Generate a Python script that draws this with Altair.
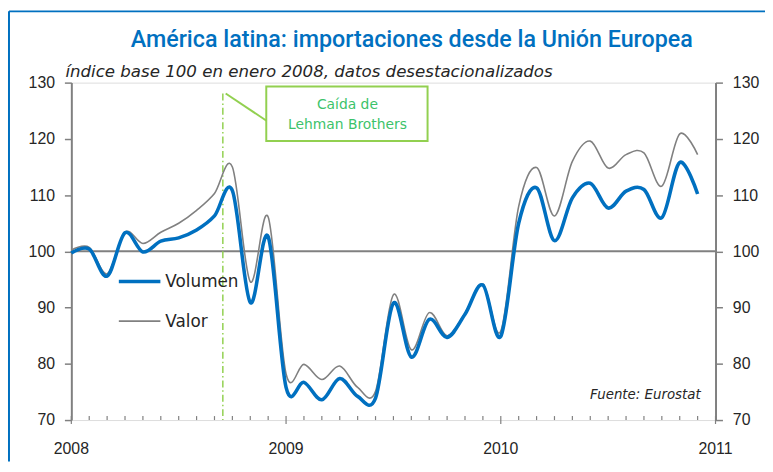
import altair as alt
import pandas as pd

# ---------------- data ----------------
meses = ["2008-01", "2008-02", "2008-03", "2008-04", "2008-05", "2008-06",
         "2008-07", "2008-08", "2008-09", "2008-10", "2008-11", "2008-12",
         "2009-01", "2009-02", "2009-03", "2009-04", "2009-05", "2009-06",
         "2009-07", "2009-08", "2009-09", "2009-10", "2009-11", "2009-12",
         "2010-01", "2010-02", "2010-03", "2010-04", "2010-05", "2010-06",
         "2010-07", "2010-08", "2010-09", "2010-10", "2010-11", "2010-12"]
volumen = [99.7, 100.4, 95.6, 103.3, 99.9, 101.8, 102.4, 103.8, 106.3, 110.8, 90.9, 102.6,
           75.8, 76.7, 73.6, 77.4, 74.2, 73.9, 90.8, 81.2, 87.9, 84.7, 88.8, 94.0,
           84.9, 105.0, 111.3, 101.9, 109.5, 112.1, 107.7, 110.7, 111.0, 106.0, 115.8, 110.2]
valor = [100.2, 100.7, 96.0, 103.4, 101.4, 103.4, 105.0, 107.3, 110.3, 115.0, 94.6, 106.1,
         78.2, 79.9, 77.2, 79.6, 75.8, 75.1, 92.3, 82.5, 89.1, 85.0, 89.0, 94.2,
         85.8, 108.0, 114.9, 106.3, 116.0, 119.6, 114.8, 117.2, 117.5, 111.6, 120.9, 117.2]
anios = ["2008", "2009", "2010", "2011"]
y_ticks = [70, 80, 90, 100, 110, 120, 130]
lehman_fecha = "2008-09-15"

titulo = "América latina: importaciones desde la Unión Europea"
subtitulo = "índice base 100 en enero 2008, datos desestacionalizados"
fuente = "Fuente: Eurostat"
nota = ["Caída de", "Lehman Brothers"]

# ---------------- derived tables ----------------
t_idx = list(range(len(meses)))
df = pd.DataFrame({"t": t_idx, "mes": meses, "Volumen": volumen, "Valor": valor})
n_months = 12 * (len(anios) - 1)
ticks_df = pd.DataFrame({"t": [m for m in range(n_months + 1) if m % 12 != 0]})
years_df = pd.DataFrame({"t": [12 * i for i in range(len(anios))], "label": anios})
ly, lm, ld = [int(v) for v in lehman_fecha.split("-")]
lehman_t = (ly - 2008) * 12 + (lm - 1) + (ld - 1) / 30.0
lehman_df = pd.DataFrame({"t": [lehman_t]})
ref_df = pd.DataFrame({"y": [100]})
one = pd.DataFrame({"a": [0]})

W, H = 651, 341
GRAY = "#808080"
BLUE = "#0070C0"
GREEN_LINE = "#92D050"
GREEN_TXT = "#3CC36A"
TXT = "#262626"
NUM_FONT = "Liberation Sans Narrow, Arial Narrow, Liberation Sans, sans-serif"
TXT_FONT = "DejaVu Sans, Open Sans, sans-serif"

x_scale = alt.Scale(domain=[0, n_months], nice=False, zero=False)
y_scale = alt.Scale(domain=[70, 130], nice=False, zero=False)

x_axis = alt.Axis(values=[12 * i for i in range(len(anios))], labels=False,
                  ticks=False, domainColor=GRAY, domainWidth=2, grid=False, title=None)
y_axis_l = alt.Axis(values=y_ticks, orient="left", tickSize=7, tickColor=GRAY, tickWidth=1.5,
                    domainColor=GRAY, domainWidth=2, labelFontSize=16, labelColor=TXT,
                    labelFont=NUM_FONT, labelPadding=10, grid=False, title=None)
y_axis_r = alt.Axis(values=y_ticks, orient="right", tickSize=7, tickColor=GRAY, tickWidth=1.5,
                    domainColor=GRAY, domainWidth=2, labelFontSize=16, labelColor=TXT,
                    labelFont=NUM_FONT, labelPadding=10, grid=False, title=None)

X = alt.X("t:Q", scale=x_scale, axis=x_axis)
XN = alt.X("t:Q", scale=x_scale, axis=None)

valor_line = alt.Chart(df).mark_line(color=GRAY, strokeWidth=1.6, interpolate="cardinal").encode(
    x=X, y=alt.Y("Valor:Q", scale=y_scale, axis=y_axis_l))
vol_line = alt.Chart(df).mark_line(color=BLUE, strokeWidth=3.6, interpolate="cardinal").encode(
    x=XN, y=alt.Y("Volumen:Q", scale=y_scale, axis=None))
right_axis = alt.Chart(df).mark_line(opacity=0).encode(
    x=XN, y=alt.Y("Volumen:Q", scale=y_scale, axis=y_axis_r))

ref_rule = alt.Chart(ref_df).mark_rule(color=GRAY, strokeWidth=2).encode(
    y=alt.Y("y:Q", scale=y_scale, axis=None))

month_ticks = alt.Chart(ticks_df).mark_rule(color=GRAY, strokeWidth=1.2).encode(
    x=XN, y=alt.value(H - 4), y2=alt.value(H))
year_ticks = alt.Chart(years_df).mark_rule(color=GRAY, strokeWidth=1.2).encode(
    x=XN, y=alt.value(H - 4), y2=alt.value(H + 4))
year_labels = alt.Chart(years_df).mark_text(font=NUM_FONT, fontSize=16, color=TXT,
                                             align="center", baseline="middle").encode(
    x=XN, y=alt.value(H + 29), text="label:N")

lehman_rule = alt.Chart(lehman_df).mark_rule(color=GREEN_LINE, strokeWidth=1.5,
                                               strokeDash=[7, 3, 1.5, 3]).encode(
    x=XN, y=alt.value(11), y2=alt.value(H))
connector = alt.Chart(one).mark_rule(color=GREEN_LINE, strokeWidth=2).encode(
    x=alt.value(156), x2=alt.value(198), y=alt.value(11), y2=alt.value(39))
box = alt.Chart(one).mark_rect(fill="white", stroke=GREEN_LINE, strokeWidth=2).encode(
    x=alt.value(197), x2=alt.value(360), y=alt.value(4), y2=alt.value(59))
box_t1 = alt.Chart(one).mark_text(font=TXT_FONT, fontSize=14, color=GREEN_TXT,
                                    align="center", baseline="middle").encode(
    x=alt.value(279), y=alt.value(23), text=alt.value(nota[0]))
box_t2 = alt.Chart(one).mark_text(font=TXT_FONT, fontSize=14, color=GREEN_TXT,
                                    align="center", baseline="middle").encode(
    x=alt.value(279), y=alt.value(43), text=alt.value(nota[1]))

leg_vol = alt.Chart(one).mark_rule(color=BLUE, strokeWidth=3.6).encode(
    x=alt.value(48), x2=alt.value(90), y=alt.value(201))
leg_val = alt.Chart(one).mark_rule(color=GRAY, strokeWidth=1.6).encode(
    x=alt.value(48), x2=alt.value(90), y=alt.value(241))
leg_vol_t = alt.Chart(one).mark_text(font=TXT_FONT, fontSize=17, color=TXT,
                                       align="left", baseline="middle").encode(
    x=alt.value(95), y=alt.value(202), text=alt.value("Volumen"))
leg_val_t = alt.Chart(one).mark_text(font=TXT_FONT, fontSize=17, color=TXT,
                                       align="left", baseline="middle").encode(
    x=alt.value(95), y=alt.value(242), text=alt.value("Valor"))

title_t = alt.Chart(one).mark_text(font="Roboto, Liberation Sans, sans-serif", fontSize=23.5,
                                     fontWeight=500, color=BLUE,
                                     align="center", baseline="middle").encode(
    x=alt.value(344), y=alt.value(-43), text=alt.value(titulo))
sub_t = alt.Chart(one).mark_text(font=TXT_FONT, fontSize=16.8, fontStyle="italic", color=TXT,
                                   align="left", baseline="middle").encode(
    x=alt.value(-6), y=alt.value(-11), text=alt.value(subtitulo))
src_t = alt.Chart(one).mark_text(font=TXT_FONT, fontSize=13.5, fontStyle="italic", color=TXT,
                                   align="right", baseline="middle").encode(
    x=alt.value(636), y=alt.value(316), text=alt.value(fuente))

frame_top = alt.Chart(one).mark_rule(color=BLUE, strokeWidth=2).encode(
    x=alt.value(-63), x2=alt.value(W + 50), y=alt.value(-72))
frame_left = alt.Chart(one).mark_rule(color=BLUE, strokeWidth=2).encode(
    x=alt.value(-63), y=alt.value(-72), y2=alt.value(H + 42))

chart = alt.layer(
    frame_top, frame_left,
    ref_rule, month_ticks, year_ticks, year_labels, lehman_rule, connector, box, box_t1, box_t2,
    valor_line, vol_line, right_axis,
    leg_vol, leg_val, leg_vol_t, leg_val_t,
    title_t, sub_t, src_t,
).resolve_axis(y="independent").properties(
    width=W, height=H,
    padding={"left": 64, "top": 73, "right": 50, "bottom": 42},
    autosize=alt.AutoSizeParams(type="none"),
).configure_view(stroke=None).configure(background="white")

chart.save("out.html", embed_options={"renderer": "svg", "actions": False})
